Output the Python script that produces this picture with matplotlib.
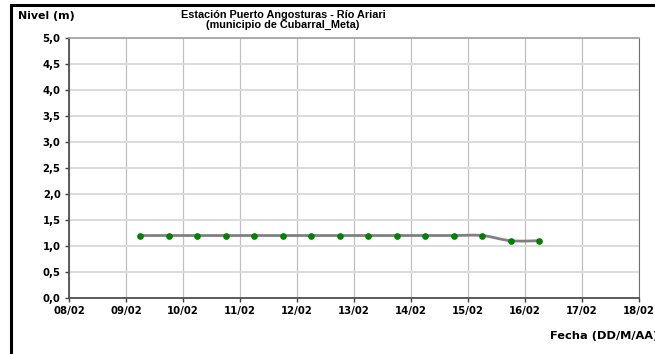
import matplotlib.pyplot as plt
import matplotlib.dates as mdates
from matplotlib.path import Path
from matplotlib.patches import PathPatch
import numpy as np
from datetime import datetime

plt.rcParams['font.family'] = ['DejaVu Sans']
plt.rcParams['font.weight'] = 'bold'

# Datos: lecturas cada 12 horas (06:00 y 18:00)
fechas = ['2024-02-09 06:00', '2024-02-09 18:00', '2024-02-10 06:00', '2024-02-10 18:00',
          '2024-02-11 06:00', '2024-02-11 18:00', '2024-02-12 06:00', '2024-02-12 18:00',
          '2024-02-13 06:00', '2024-02-13 18:00', '2024-02-14 06:00', '2024-02-14 18:00',
          '2024-02-15 06:00', '2024-02-15 18:00', '2024-02-16 06:00']
nivel = [1.2, 1.2, 1.2, 1.2, 1.2, 1.2, 1.2, 1.2, 1.2, 1.2, 1.2, 1.2, 1.2, 1.1, 1.1]
y_ticks = [0.0, 0.5, 1.0, 1.5, 2.0, 2.5, 3.0, 3.5, 4.0, 4.5, 5.0]

x = [datetime.strptime(f, '%Y-%m-%d %H:%M') for f in fechas]
xn = mdates.date2num(x)

fig = plt.figure(figsize=(6.55, 3.54), dpi=100)
ax = fig.add_axes([69/655, 1 - 298/354, (639-69)/655, (298-37.7)/354])

# marco negro del grafico
fig.add_artist(plt.Line2D([11/655, 11/655], [0, 1 - 5/354], color='black', lw=2.2, transform=fig.transFigure))
fig.add_artist(plt.Line2D([11/655, 1], [1 - 5/354, 1 - 5/354], color='black', lw=2.2, transform=fig.transFigure))


def smooth_path(xs, ys, t=1/6):
    # linea suavizada tipo Excel (Bezier con tangentes Catmull-Rom)
    pts = np.column_stack([xs, ys])
    verts = [pts[0]]
    codes = [Path.MOVETO]
    n = len(pts)
    for i in range(n - 1):
        p0 = pts[max(i - 1, 0)]
        p1 = pts[i]
        p2 = pts[i + 1]
        p3 = pts[min(i + 2, n - 1)]
        c1 = p1 + (p2 - p0) * t
        c2 = p2 - (p3 - p1) * t
        verts += [c1, c2, p2]
        codes += [Path.CURVE4] * 3
    return Path(verts, codes)


ax.add_patch(PathPatch(smooth_path(xn, nivel), facecolor='none', edgecolor='#808080', lw=2, zorder=3))
ax.plot(x, nivel, linestyle='none', marker='o', ms=3.8, color='#008000', zorder=4)

ax.set_xlim(datetime(2024, 2, 8), datetime(2024, 2, 18))
ax.set_ylim(0, 5)
ax.set_yticks(y_ticks)
ax.set_yticklabels([f'{v:.1f}'.replace('.', ',') for v in y_ticks])
ax.xaxis.set_major_locator(mdates.DayLocator())
ax.xaxis.set_major_formatter(mdates.DateFormatter('%d/%m'))

ax.grid(axis='x', color='#c0c0c0', lw=0.9)
ax.grid(axis='y', color='#dcdcdc', lw=1.4)
ax.set_axisbelow(True)

for s in ['left', 'bottom']:
    ax.spines[s].set_color('#505050')
    ax.spines[s].set_linewidth(1.3)
ax.spines['top'].set_color('#a0a0a0')
ax.spines['top'].set_linewidth(1.2)
ax.spines['right'].set_color('#707070')
ax.spines['right'].set_linewidth(0.8)

ax.tick_params(axis='both', labelsize=7.3, length=3, width=1, color='#404040', pad=3)
for lab in ax.get_xticklabels() + ax.get_yticklabels():
    lab.set_fontweight('bold')

fig.text(283/655, 1 - 10/354, 'Estación Puerto Angosturas - Río Ariari\n(municipio de Cubarral_Meta)',
         ha='center', va='top', fontsize=7.8, fontweight='bold', linespacing=0.95,
         family=['Liberation Sans', 'DejaVu Sans'])
fig.text(18/655, 1 - 16/354, 'Nivel (m)', ha='left', va='center', fontsize=7.9, fontweight='bold')
fig.text(550/655, 1 - 336/354, 'Fecha (DD/M/AA)', ha='left', va='center', fontsize=8.2, fontweight='bold')

fig.savefig('out.png', dpi=100)
